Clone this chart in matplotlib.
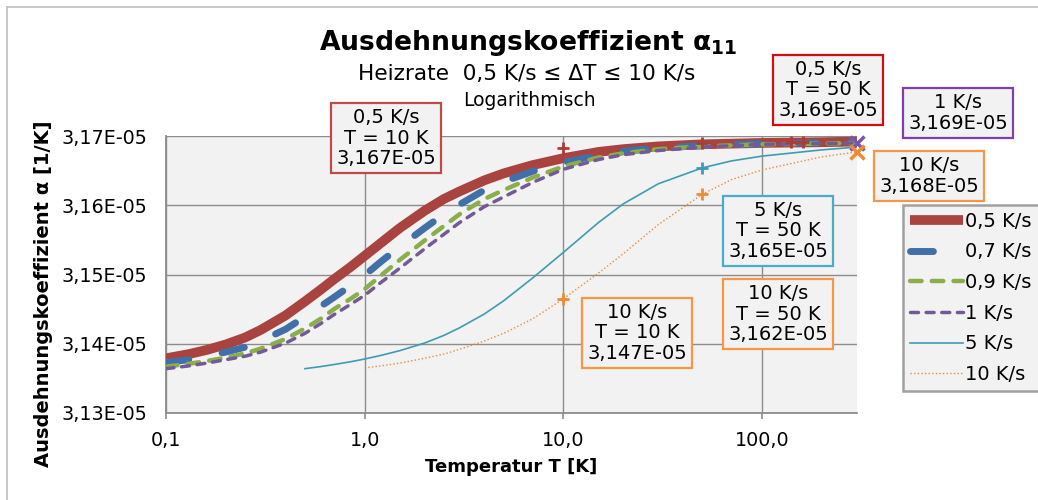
import matplotlib
matplotlib.use("Agg")
import matplotlib.pyplot as plt
from matplotlib.lines import Line2D
from matplotlib.ticker import FixedLocator, FuncFormatter, NullLocator

plt.rcParams['font.family'] = ['DejaVu Sans']

# temperatures [K] and alpha values [1e-5 1/K]
T_low = [0.1, 0.13, 0.16, 0.2, 0.25, 0.3, 0.4, 0.5, 0.6, 0.7, 0.85, 1, 1.2, 1.5, 2,
         2.5, 3, 4, 5, 7, 10, 15, 20, 30, 50, 100, 200, 300]
a_05 = [3.1379, 3.1385, 3.1391, 3.1399, 3.1409, 3.1420, 3.1441, 3.1461, 3.1478, 3.1493,
        3.1511, 3.1527, 3.1545, 3.1567, 3.1592, 3.1609, 3.1620, 3.1636, 3.1646, 3.1658,
        3.1668, 3.1677, 3.1681, 3.1685, 3.1688, 3.1690, 3.1691, 3.1692]
a_07 = [3.1373, 3.1377, 3.1382, 3.1388, 3.1395, 3.1404, 3.1421, 3.1439, 3.1454, 3.1467,
        3.1484, 3.1499, 3.1518, 3.1540, 3.1567, 3.1587, 3.1601, 3.1622, 3.1634, 3.1649,
        3.1662, 3.1672, 3.1678, 3.1683, 3.1686, 3.1689, 3.1690, 3.1691]
a_09 = [3.1367, 3.1371, 3.1375, 3.1380, 3.1386, 3.1393, 3.1407, 3.1422, 3.1436, 3.1450,
        3.1465, 3.1479, 3.1498, 3.1521, 3.1549, 3.1570, 3.1587, 3.1609, 3.1622, 3.1640,
        3.1656, 3.1669, 3.1675, 3.1681, 3.1685, 3.1688, 3.1689, 3.1690]
a_1 = [3.1364, 3.1368, 3.1372, 3.1377, 3.1382, 3.1388, 3.1401, 3.1415, 3.1429, 3.1442,
       3.1457, 3.1470, 3.1488, 3.1509, 3.1537, 3.1558, 3.1575, 3.1598, 3.1612, 3.1633,
       3.1652, 3.1666, 3.1673, 3.1679, 3.1684, 3.1688, 3.1689, 3.1690]
T_5 = [0.5, 0.6, 0.7, 0.85, 1, 1.2, 1.5, 2, 2.5, 3, 4, 5, 7, 10, 15, 20, 30, 50, 70,
       100, 200, 300]
a_5 = [3.1364, 3.1367, 3.1370, 3.1374, 3.1378, 3.1383, 3.1390, 3.1401, 3.1412, 3.1423,
       3.1443, 3.1462, 3.1495, 3.1532, 3.1575, 3.1602, 3.1631, 3.1654, 3.1664, 3.1671,
       3.1680, 3.1684]
T_10 = [1, 1.2, 1.5, 2, 2.5, 3, 4, 5, 7, 10, 15, 20, 30, 50, 70, 100, 200, 300]
a_10 = [3.1365, 3.1368, 3.1372, 3.1379, 3.1385, 3.1392, 3.1404, 3.1415, 3.1436, 3.1465,
        3.1502, 3.1530, 3.1572, 3.1616, 3.1637, 3.1651, 3.1670, 3.1677]

# marked data points
mark_05_T = [10, 50, 140, 160]
mark_05_a = [3.1683, 3.1690, 3.1691, 3.1691]
mark_5_T = [50]
mark_5_a = [3.1654]
mark_10_T = [10, 50]
mark_10_a = [3.1465, 3.1616]
end_1_T, end_1_a = [300], [3.1690]
end_10_T, end_10_a = [300], [3.1677]

labels = ['0,5 K/s', '0,7 K/s', '0,9 K/s', '1 K/s', '5 K/s', '10 K/s']
x_ticks = [0.1, 1, 10, 100]
x_ticklabels = ['0,1', '1,0', '10,0', '100,0']
y_ticks = [3.13, 3.14, 3.15, 3.16, 3.17]

c_red = '#A9433F'
c_blue = '#4170A8'
c_green = '#8AAE4A'
c_purple = '#735A96'
c_cyan = '#3D9CB4'
c_orange = '#F08A33'

W, H = 1038, 500
fig = plt.figure(figsize=(W / 100, H / 100), dpi=100)


def fx(x):
    return x / W


def fy(y):
    return 1 - y / H


# outer chart border (cut at right and bottom)
fig.add_artist(Line2D([fx(7), 1], [fy(7), fy(7)], color='#BFBFBF', lw=1.2))
fig.add_artist(Line2D([fx(7), fx(7)], [0, fy(7)], color='#BFBFBF', lw=1.2))

ax = fig.add_axes([fx(166), fy(413), (857 - 166) / W, (413 - 136) / H])
ax.set_facecolor('#F2F2F2')

ax.plot(T_low, a_05, color=c_red, lw=7, solid_capstyle='butt', label=labels[0], zorder=3)
ax.plot(T_low, a_07, color=c_blue, lw=5, dashes=(3.3, 4.9), dash_capstyle='round',
        label=labels[1], zorder=4)
ax.plot(T_low, a_09, color=c_green, lw=3.2, dashes=(2.6, 2.3), dash_capstyle='round',
        label=labels[2], zorder=5)
ax.plot(T_low, a_1, color=c_purple, lw=2.5, dashes=(2.3, 2.2), dash_capstyle='round',
        label=labels[3], zorder=6)
ax.plot(T_5, a_5, color=c_cyan, lw=1.2, label=labels[4], zorder=7)
ax.plot(T_10, a_10, color=c_orange, lw=1.0, dashes=(1, 1.6), label=labels[5], zorder=7)

ax.plot(mark_05_T, mark_05_a, ls='none', marker='+', ms=9, mew=2, color='#B03A36', zorder=8)
ax.plot(mark_5_T, mark_5_a, ls='none', marker='+', ms=9, mew=2, color=c_cyan, zorder=8)
ax.plot(mark_10_T, mark_10_a, ls='none', marker='+', ms=9, mew=2, color=c_orange, zorder=8)
ax.plot(end_1_T, end_1_a, ls='none', marker='x', ms=10, mew=2.5, color='#7B56A8', zorder=9,
        clip_on=False)
ax.plot(end_10_T, end_10_a, ls='none', marker='x', ms=10, mew=2.5, color=c_orange, zorder=9,
        clip_on=False)

ax.set_xscale('log')
ax.set_xlim(0.1, 300)
ax.set_ylim(3.13, 3.17)
ax.xaxis.set_major_locator(FixedLocator(x_ticks))
ax.xaxis.set_minor_locator(NullLocator())
ax.set_xticklabels(x_ticklabels)
ax.yaxis.set_major_locator(FixedLocator(y_ticks))
ax.yaxis.set_major_formatter(FuncFormatter(lambda v, p: f"{v:.2f}".replace('.', ',') + "E-05"))

ax.grid(True, color='#8C8C8C', lw=1.0)
ax.set_axisbelow(True)
for s in ['top', 'right']:
    ax.spines[s].set_visible(False)
for s in ['left', 'bottom']:
    ax.spines[s].set_color('#8C8C8C')
    ax.spines[s].set_linewidth(1.3)
ax.tick_params(axis='x', length=4, width=1.2, color='#8C8C8C', pad=9, labelsize=13.8)
ax.tick_params(axis='y', length=0, pad=13.5, labelsize=13.8)

leg = ax.legend(loc='upper left', bbox_to_anchor=(fx(903), fy(205)),
                bbox_transform=fig.transFigure, borderaxespad=0, fontsize=14,
                handlelength=2.75, handletextpad=0.1, labelspacing=0.6,
                borderpad=0.35, fancybox=False, framealpha=1)
leg.get_frame().set_facecolor('#F2F2F2')
leg.get_frame().set_edgecolor('#A0A0A0')
leg.get_frame().set_linewidth(1.8)

# titles and axis labels
fig.text(fx(528), fy(50), r'Ausdehnungskoeffizient α$_{\mathbf{11}}$', ha='center',
         va='baseline', fontsize=19.2, fontweight='bold')
fig.text(fx(527), fy(80), 'Heizrate  0,5 K/s ≤ ΔT ≤ 10 K/s', ha='center',
         va='baseline', fontsize=15.6)
fig.text(fx(529), fy(106), 'Logarithmisch', ha='center', va='baseline', fontsize=13.5)
fig.text(fx(44), fy(294), 'Ausdehnungskoeffizient α [1/K]', rotation=90, ha='center',
         va='center', fontsize=14, fontweight='bold')
fig.text(fx(511), fy(467), 'Temperatur T [K]', ha='center', va='center', fontsize=13,
         fontweight='bold')

# data labels
boxes = [
    ('0,5 K/s\nT = 10 K\n3,167E-05', 386, 138, '#BE4B48'),
    ('0,5 K/s\nT = 50 K\n3,169E-05', 828, 90, '#D01010'),
    ('1 K/s\n3,169E-05', 958, 113, '#7F3FB0'),
    ('10 K/s\n3,168E-05', 929, 176, '#F79646'),
    ('5 K/s\nT = 50 K\n3,165E-05', 778, 231, '#4BACC6'),
    ('10 K/s\nT = 50 K\n3,162E-05', 778, 314, '#F79646'),
    ('10 K/s\nT = 10 K\n3,147E-05', 637, 333, '#F79646'),
]
for txt, bx, by, ec in boxes:
    fig.text(fx(bx), fy(by), txt, ha='center', va='center', fontsize=14,
             linespacing=1.1, zorder=10,
             bbox=dict(boxstyle='square,pad=0.25', fc='#F2F2F2', ec=ec, lw=1.6))

fig.savefig('out.png', dpi=100)
